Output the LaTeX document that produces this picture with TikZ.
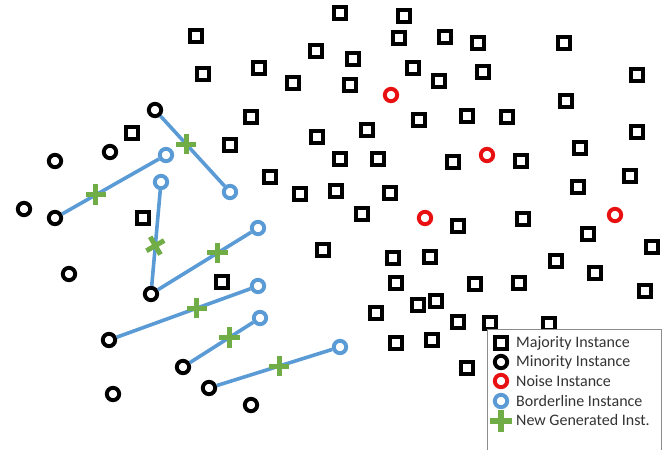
\documentclass[tikz,border=0pt]{standalone}
\usepackage{fontspec}
\setmainfont{Carlito}
\usetikzlibrary{shapes.misc}
\definecolor{bord}{HTML}{5B9BD5}
\definecolor{gen}{HTML}{70AD47}
\definecolor{noise}{HTML}{E81010}
\definecolor{legline}{HTML}{8C8C8C}
\definecolor{legtext}{HTML}{333333}
\tikzset{
  maj/.style={rectangle,draw=black,line width=4,minimum size=12.6,inner sep=0,fill=white},
  mino/.style={circle,draw=black,line width=3.9,minimum size=12.4,inner sep=0,fill=white},
  noisy/.style={mino,draw=noise},
  border/.style={mino,draw=bord},
  newinst/.style={cross out,draw=gen,line width=5,minimum size=9.5,inner sep=0,rotate=45},
  link/.style={draw=bord,line width=3.6},
  legtxt/.style={anchor=west,text=legtext,font=\fontsize{16}{19}\selectfont,inner sep=0}
}

\begin{document}
\begin{tikzpicture}[x=1pt,y=-1pt]
\useasboundingbox (0,0) rectangle (670,450);
% majority cloud
\foreach \x/\y [count=\i] in {340/13,404/16,196/36,399/38,445/37,478/43,564/43,316/51,353/59,203/74,
  259/68,413/68,293/83,350/85,439/81,483/72,637/75,566/101,251/117,419/120,467/116,507/117,132/133,
  317/137,367/130,230/145,637/132,340/159,378/159,453/162,521/161,580/148,270/177,300/194,336/191,
  390/193,578/187,630/176,143/218,362/214,458/226,523/219,588/234,323/250,652/247,393/258,430/257,
  556/261,222/282,396/283,475/284,519/283,595/273,645/291,376/313,418/305,436/301,458/322,490/323,
  549/324,396/343,432/340,467/368}
  \node[maj] (maj\i) at (\x,\y) {};
% minority, noise and borderline points
\foreach \x/\y [count=\i] in {155/110,110/152,55/161,24/209,55/218,69/274,151/294,109/340,183/367,
  209/388,113/394,251/405}
  \node[mino] (m\i) at (\x,\y) {};
\foreach \x/\y [count=\i] in {391/95,487/155,425/218,615/215}
  \node[noisy] (n\i) at (\x,\y) {};
\foreach \x/\y [count=\i] in {166/155,161/182,230/192,258/228,258/286,260/318,340/347}
  \node[border] (b\i) at (\x,\y) {};
% synthetic samples on the links
\draw[link] (m1) -- node[newinst,pos=.4] (g1) {} (b3);
\draw[link] (m5) -- node[newinst,pos=.35] (g2) {} (b1);
\draw[link] (m7) -- node[newinst,pos=.42,rotate=30] (g3) {} (b2);
\draw[link] (m7) -- node[newinst,pos=.64] (g4) {} (b4);
\draw[link] (m8) -- node[newinst,pos=.6] (g5) {} (b5);
\draw[link] (m9) -- node[newinst,pos=.63] (g6) {} (b6);
\draw[link] (m10) -- node[newinst,pos=.54] (g7) {} (b7);
% legend
\node[draw=legline,line width=1,fill=white,minimum width=174,minimum height=126,anchor=north west,inner sep=0] (legend) at (487,329) {};
\node[maj] (lmaj) at (501,343) {};
\node[legtxt] (tmaj) at (516,343) {Majority Instance};
\node[mino] (lmin) at (501,362) {};
\node[legtxt] (tmin) at (516,362) {Minority Instance};
\node[noisy] (lnoi) at (501,381) {};
\node[legtxt] (tnoi) at (516,381) {Noise Instance};
\node[border] (lbor) at (501,401) {};
\node[legtxt] (tbor) at (516,401) {Borderline Instance};
\node[newinst,minimum size=10.5,line width=5.2] (lgen) at (501,421) {};
\node[legtxt] (tgen) at (516,420) {New Generated Inst.};
\end{tikzpicture}
\end{document}
